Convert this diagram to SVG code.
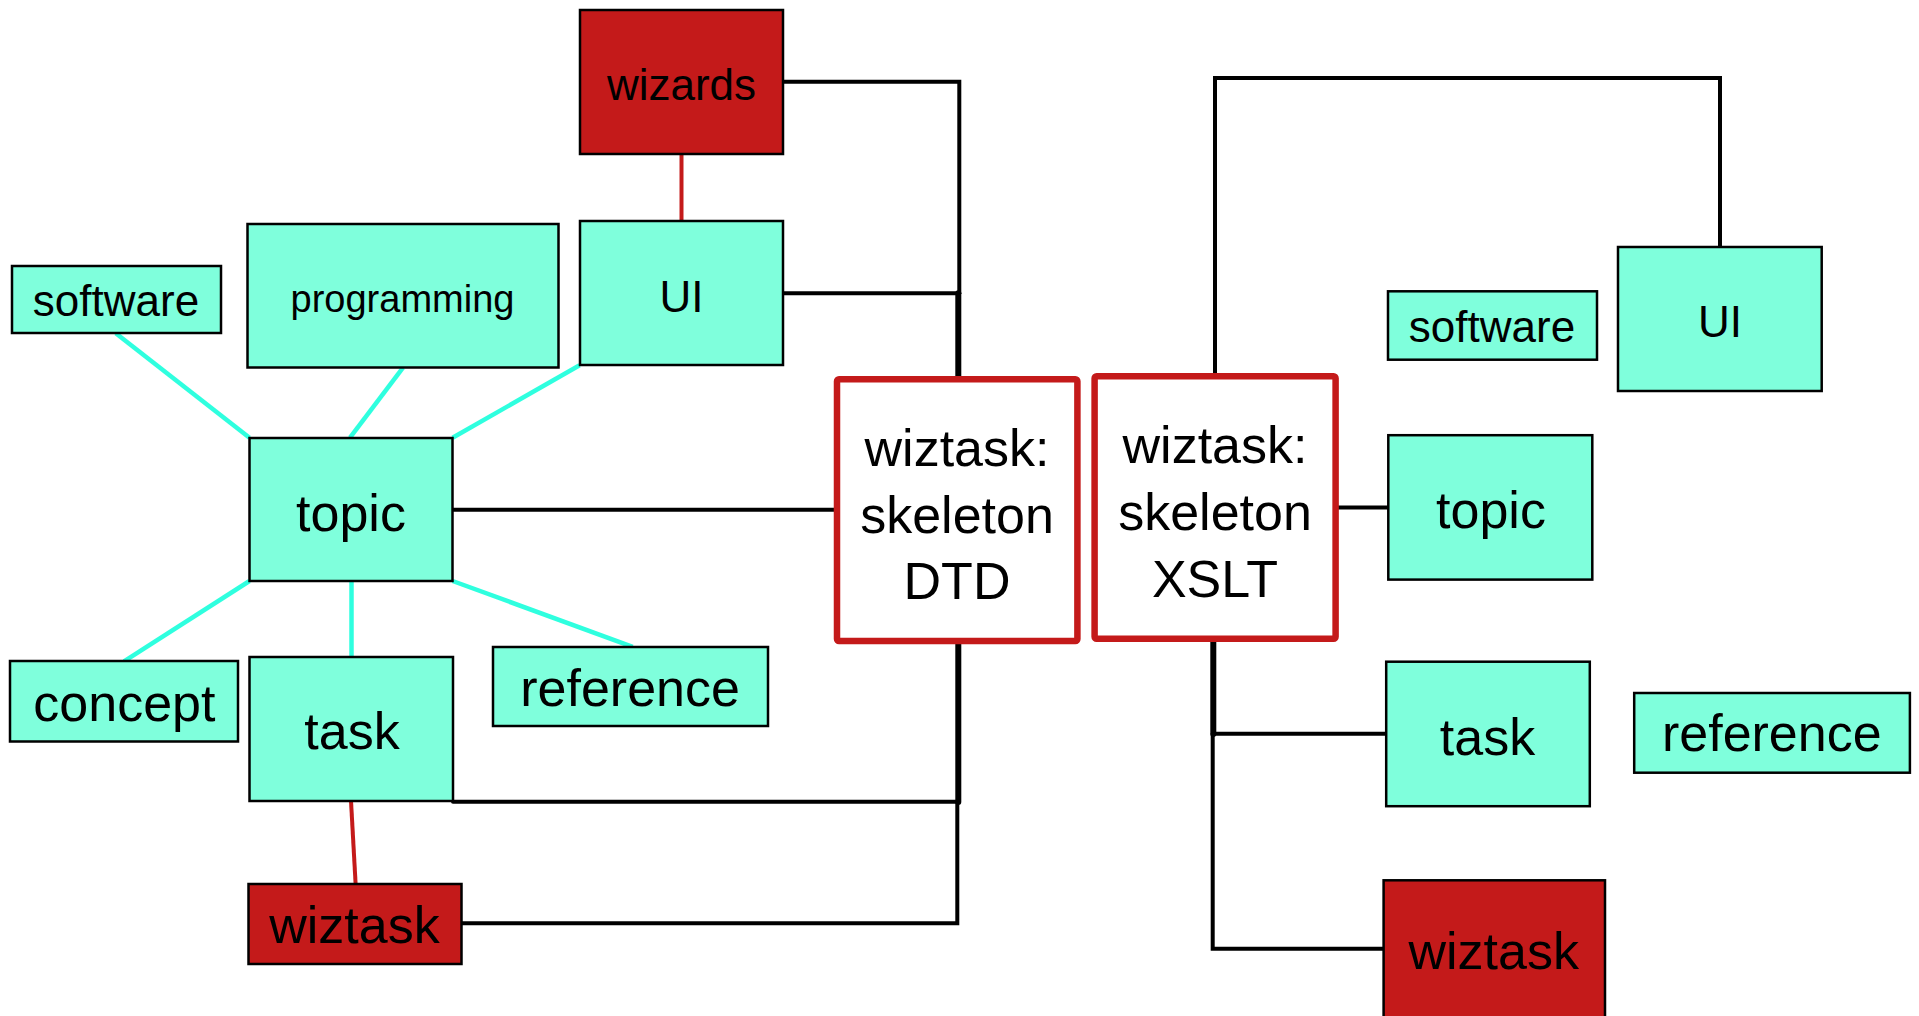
<svg xmlns="http://www.w3.org/2000/svg" width="1919" height="1016" viewBox="0 0 1919 1016">
  <style>
    .box { fill: #7FFFDC; stroke: #000; stroke-width: 2.5; }
    .wiz { fill: #C41A1A; stroke: #000; stroke-width: 2.5; }
    .core { fill: #fff; stroke: #C41A1A; stroke-width: 6.5; }
    text { font-family: "Liberation Sans", Arial, sans-serif; fill: #000; text-anchor: middle; }
    .t44 { font-size: 44px; }
    .t38 { font-size: 38px; }
    .t52 { font-size: 52px; }
    .blk { fill: none; stroke: #000; stroke-width: 4; stroke-linecap: round; stroke-linejoin: miter; }
    .blk.thick { stroke-width: 6; }
    .cyan { fill: none; stroke: #2FFFDF; stroke-width: 4.5; }
    .red { fill: none; stroke: #C41A1A; stroke-width: 4; }
  </style>

  <!-- connectors -->
  <g id="connectors">
    <!-- topic specialisations (left cluster) -->
    <line class="cyan" x1="115.8" y1="333.3" x2="249.5" y2="437.7"/>
    <line class="cyan" x1="403" y1="367.7" x2="350" y2="437.7"/>
    <line class="cyan" x1="579.6" y1="365.3" x2="452.6" y2="437.7"/>
    <line class="cyan" x1="249.5" y1="581" x2="124" y2="661.3"/>
    <line class="cyan" x1="351.5" y1="581" x2="351.5" y2="657"/>
    <line class="cyan" x1="452.6" y1="581" x2="632.7" y2="646.8"/>

    <!-- wizard links -->
    <line class="red" x1="681.5" y1="154" x2="681.5" y2="221"/>
    <line class="red" x1="351" y1="800.8" x2="355.6" y2="883.7"/>

    <!-- skeleton DTD links -->
    <path class="blk" d="M783 81.7 H959.3 V293.3"/>
    <path class="blk" d="M783 293.3 H959.3"/>
    <path class="blk thick" d="M958.3 293.3 V379"/>
    <path class="blk" d="M452.6 509.8 H837"/>
    <path class="blk thick" d="M958.3 641 V802"/>
    <path class="blk" d="M453 801.7 H958.3"/>
    <path class="blk" d="M957.3 802 V923.3 H461.7"/>

    <!-- skeleton XSLT links -->
    <path class="blk" d="M1215 376 V78 H1720 V247"/>
    <path class="blk" d="M1336 507.4 H1388.3" stroke-width="4.5"/>
    <path class="blk thick" d="M1213.3 638.7 V734"/>
    <path class="blk" d="M1212.7 733.8 H1386.2"/>
    <path class="blk" d="M1212.7 734 V948.7 H1383.6"/>
  </g>

  <!-- left cluster -->
  <g id="wizards">
    <rect class="wiz" x="580" y="10" width="203" height="144"/>
    <text class="t44" x="681.5" y="100">wizards</text>
  </g>
  <g id="software-left">
    <rect class="box" x="12" y="266" width="209" height="67"/>
    <text class="t44" x="116" y="316">software</text>
  </g>
  <g id="programming">
    <rect class="box" x="247.5" y="224" width="311" height="143.5"/>
    <text class="t38" x="402.5" y="311.7">programming</text>
  </g>
  <g id="ui-left">
    <rect class="box" x="580" y="221" width="203" height="144"/>
    <text class="t44" x="681.5" y="311.7">UI</text>
  </g>
  <g id="topic-left">
    <rect class="box" x="249.5" y="438" width="203" height="143"/>
    <text class="t52" x="351" y="530.8">topic</text>
  </g>
  <g id="concept">
    <rect class="box" x="10" y="661" width="228" height="80.5"/>
    <text class="t52" x="124.4" y="721.4">concept</text>
  </g>
  <g id="task-left">
    <rect class="box" x="249.5" y="657" width="203.5" height="144"/>
    <text class="t52" x="352" y="749">task</text>
  </g>
  <g id="reference-left">
    <rect class="box" x="493" y="647" width="275" height="79"/>
    <text class="t52" x="630.1" y="705.7">reference</text>
  </g>
  <g id="wiztask-left">
    <rect class="wiz" x="248.5" y="884" width="213" height="80"/>
    <text class="t52" x="354.4" y="943">wiztask</text>
  </g>

  <!-- skeleton boxes -->
  <g id="skeleton-dtd">
    <rect class="core" x="837" y="379.3" width="240.4" height="261.7" rx="2"/>
    <text class="t52" x="957" y="465.7">wiztask:</text>
    <text class="t52" x="957" y="533.3">skeleton</text>
    <text class="t52" x="957" y="599">DTD</text>
  </g>
  <g id="skeleton-xslt">
    <rect class="core" x="1094.6" y="376.3" width="241" height="262.4" rx="2"/>
    <text class="t52" x="1215" y="462.7">wiztask:</text>
    <text class="t52" x="1215" y="530">skeleton</text>
    <text class="t52" x="1215" y="596.7">XSLT</text>
  </g>

  <!-- right cluster -->
  <g id="software-right">
    <rect class="box" x="1388" y="291.3" width="209" height="68.4"/>
    <text class="t44" x="1492" y="342.3">software</text>
  </g>
  <g id="ui-right">
    <rect class="box" x="1618" y="247" width="203.7" height="144"/>
    <text class="t44" x="1720" y="337.3">UI</text>
  </g>
  <g id="topic-right">
    <rect class="box" x="1388.3" y="435.2" width="204" height="144.4"/>
    <text class="t52" x="1491" y="528.3">topic</text>
  </g>
  <g id="task-right">
    <rect class="box" x="1386.2" y="661.7" width="203.6" height="144.5"/>
    <text class="t52" x="1487.5" y="754.5">task</text>
  </g>
  <g id="reference-right">
    <rect class="box" x="1634.2" y="693" width="275.7" height="79.7"/>
    <text class="t52" x="1771.8" y="751.4">reference</text>
  </g>
  <g id="wiztask-right">
    <rect class="wiz" x="1383.6" y="880.3" width="221.4" height="150"/>
    <text class="t52" x="1493.7" y="968.5">wiztask</text>
  </g>
</svg>
